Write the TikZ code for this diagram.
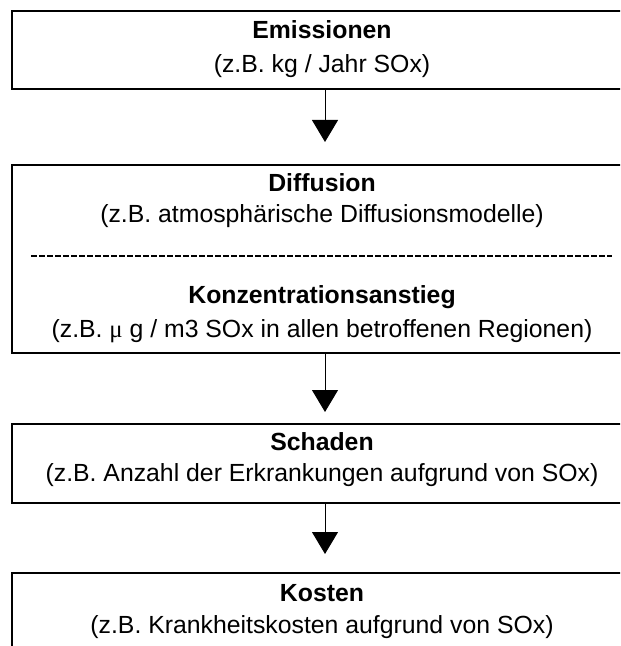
\documentclass[tikz,border=0pt]{standalone}
\usepackage{fontspec}
\setmainfont{Liberation Sans}
\newfontfamily\mufont{Liberation Serif}
\usetikzlibrary{arrows.meta}

\tikzset{
  box/.style={draw,line width=1pt,minimum width=313pt,inner sep=0pt},
  title/.style={font=\fontsize{12.4}{14}\selectfont\bfseries},
  sub/.style={font=\fontsize{12.4}{14}\selectfont},
  flow/.style={line width=0.5pt,-{Triangle[width=13pt,length=11pt]}}
}

\begin{document}
\begin{tikzpicture}[x=0.5pt,y=-0.5pt]
\clip (0,0) rectangle (620,646);
% boxes
\node [box,minimum height=39pt] (emis) at (325,50) {};
\node [box,minimum height=94pt] (diff) at (325,259) {};
\node [box,minimum height=39.5pt] (schad) at (325,463.5) {};
\node [box,minimum height=39pt] (kost) at (325,612) {};
% texts
\node [title] (t1) at (322,30) {Emissionen};
\node [sub] (s1) at (322,66) {(z.B. kg / Jahr SOx)};
\node [title] (t2) at (322,183) {Diffusion};
\node [sub] (s2) at (322,216) {(z.B. atmosphärische Diffusionsmodelle)};
\coordinate (sepl) at (31,256);
\coordinate (sepr) at (612,256);
\draw [line width=0.9pt,dash pattern=on 3pt off 1pt] (sepl) -- (sepr);
\node [title] (t3) at (322,297) {Konzentrationsanstieg};
\node [sub] (s3) at (322,331) {(z.B. {\mufont μ} g / m3 SOx in allen betroffenen Regionen)};
\node [title] (t4) at (322,442) {Schaden};
\node [sub] (s4) at (322,475) {(z.B. Anzahl der Erkrankungen aufgrund von SOx)};
\node [title] (t5) at (322,593) {Kosten};
\node [sub] (s5) at (322,627) {(z.B. Krankheitskosten aufgrund von SOx)};
% arrows
\draw [flow,shorten >=11pt] (emis.south) -- (diff.north);
\draw [flow,shorten >=5.5pt] (diff.south) -- (schad.north);
\draw [flow,shorten >=9pt] (schad.south) -- (kost.north);
\end{tikzpicture}
\end{document}
